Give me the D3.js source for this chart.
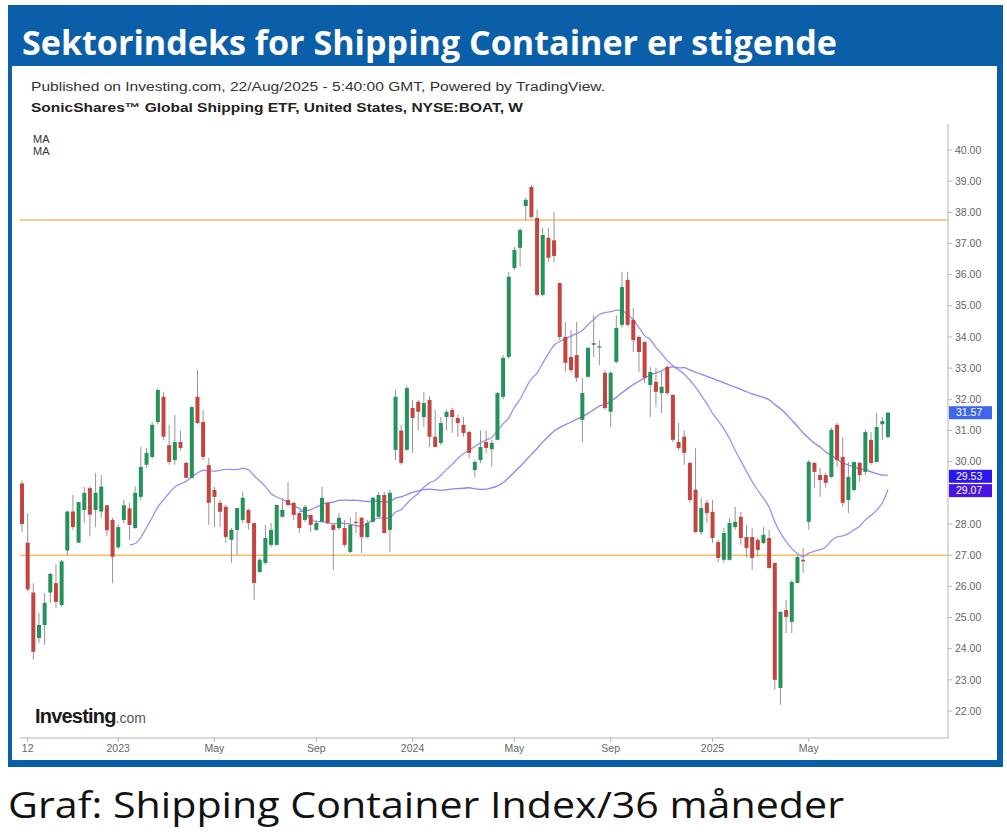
<!DOCTYPE html>
<html><head><meta charset="utf-8">
<script src="https://cdn.jsdelivr.net/npm/d3@7"></script>
<style>body{margin:0;background:#fff;} svg{display:block;}</style>
</head><body>
<svg id="chart" width="1007" height="836"></svg>
<script>
// ---------- data ----------
const titleText = "Sektorindeks for Shipping Container er stigende";
const captionText = "Graf: Shipping Container Index/36 måneder";
const publishedText = "Published on Investing.com, 22/Aug/2025 - 5:40:00 GMT, Powered by TradingView.";
const symbolText = "SonicShares\u2122 Global Shipping ETF, United States, NYSE:BOAT, W";
const maLegend = ["MA", "MA"];
const firstWeek = "2022-09-05";   // weekly candles, one per week from here
const open = [29.3,27.4,25.8,24.34,24.76,25.8,26.1,25.4,27.15,28.4,27.4,28.45,29.15,28.45,28.4,28.6,28.13,27.25,28.13,28.5,
27.87,28.87,29.9,30.15,31.27,32.08,30.53,30.05,30.63,29.96,29.48,32.08,31.27,29.89,29.09,28.68,28.55,27.49,27.81,28.13,
28.45,28.03,26.46,26.75,27.33,27.33,28.23,28.77,28.68,28.35,28.13,28.29,27.81,28.07,28.68,27.97,27.87,27.87,27.1,28.07,
28.2,27.58,28.07,28.23,28.93,27.81,30.38,31.0,30.38,31.72,31.92,31.43,31.98,30.8,30.6,31.43,31.66,31.4,31.18,30.95,
29.73,30.05,30.63,30.4,30.7,32.08,33.36,36.21,36.86,38.2,38.81,37.82,35.35,37.18,37.1,35.73,34.0,33.36,33.42,31.34,
32.72,33.75,33.67,32.85,31.6,33.2,34.39,35.83,34.55,34.0,33.84,32.46,32.56,32.2,33.04,32.14,30.63,30.8,29.96,29.1,
27.74,28.68,28.39,27.42,26.85,26.85,27.9,28.23,27.58,27.58,27.49,27.39,27.55,26.75,22.74,25.24,24.86,26.11,26.85,28.07,
29.96,29.57,29.57,29.51,31.18,30.15,28.77,29.09,29.96,29.67,30.7,29.99,31.2,30.79];
const high = [29.4,28.35,26.1,25.15,25.79,26.43,26.7,26.85,28.42,28.93,28.7,29.19,29.2,29.64,29.57,28.6,28.2,28.0,28.77,28.68,
29.2,30.47,30.44,31.27,32.36,32.24,31.18,31.5,31.0,30.0,31.8,32.94,31.66,30.12,29.19,28.77,28.61,27.87,28.51,29.03,
28.5,28.05,26.91,27.97,28.03,28.61,28.84,29.35,28.7,28.39,28.61,28.3,28.13,29.19,28.71,28.0,28.35,28.13,28.23,28.39,
28.22,28.13,28.87,29.03,29.03,29.1,32.3,31.18,32.43,31.98,31.98,32.24,32.1,31.66,31.43,31.66,31.72,31.5,31.43,31.0,
30.05,31.0,31.0,30.7,32.24,33.42,36.09,36.89,37.5,38.46,38.88,38.08,37.5,37.5,38.0,35.75,34.48,34.23,34.48,32.69,
33.68,34.7,33.9,32.94,32.9,34.7,36.09,36.09,34.93,34.05,33.86,33.04,33.0,32.94,33.1,32.16,31.24,31.0,29.98,30.44,
28.84,28.77,28.77,27.49,27.87,28.2,28.55,28.39,27.97,27.87,27.55,27.9,27.81,26.77,25.2,25.56,26.2,27.0,27.23,30.05,
29.99,29.8,29.64,31.08,31.24,30.79,29.99,29.99,29.99,31.02,30.95,31.56,31.43,31.6];
const low = [27.75,25.85,23.65,24.18,24.12,25.47,25.3,25.34,27.0,27.8,27.4,28.03,27.6,27.9,28.2,27.6,26.1,27.2,28.03,27.49,
27.85,28.77,29.8,30.1,31.2,30.7,29.9,29.9,30.37,29.45,29.45,31.2,30.05,27.97,27.9,27.9,27.39,26.75,27.0,28.03,
27.81,25.56,26.43,26.7,27.26,27.3,28.2,28.55,28.13,27.71,28.07,27.74,27.78,28.05,28.0,26.53,27.81,27.26,27.07,27.71,
27.07,27.55,28.03,28.2,27.71,27.1,30.05,29.9,30.36,30.28,31.0,31.11,30.47,30.47,30.53,31.0,30.92,30.8,30.8,30.12,
29.5,29.96,30.28,29.83,30.68,32.0,33.3,36.15,36.25,37.75,37.8,35.3,35.3,36.4,36.4,33.9,32.88,32.85,32.56,30.63,
32.69,33.36,33.1,31.66,31.11,33.15,34.3,34.35,33.52,32.88,32.53,31.43,31.75,31.56,32.14,30.63,30.37,29.9,28.68,27.72,
27.65,28.03,27.39,26.78,26.75,26.83,27.81,27.33,26.94,26.53,26.94,27.35,26.57,22.68,22.2,24.5,24.5,26.09,26.43,27.81,
29.16,28.87,29.16,29.48,29.83,28.55,28.35,29.03,29.35,29.57,29.9,29.97,30.7,30.76];
const close = [28.0,25.9,23.9,24.76,25.47,26.4,25.5,26.8,28.4,27.9,28.7,29.0,28.3,29.0,29.2,27.8,26.95,27.9,28.6,27.97,
29.0,29.83,30.28,31.18,32.3,30.8,29.99,30.63,30.44,29.48,31.75,31.24,30.15,28.68,28.87,28.39,27.58,27.81,28.51,28.84,
28.03,26.11,26.85,27.55,27.81,28.61,28.45,28.61,28.29,27.87,28.55,27.97,28.03,28.84,28.03,27.81,28.2,27.33,27.97,28.05,
27.58,28.03,28.84,28.93,27.71,29.0,32.08,29.96,32.36,31.4,31.6,31.88,30.8,30.47,31.24,31.6,31.43,31.24,30.92,30.28,
29.99,30.47,30.44,30.6,32.2,33.33,35.93,36.79,37.43,38.4,37.85,35.35,37.27,36.54,36.6,34.0,33.17,32.94,32.69,32.2,
33.65,33.8,33.7,31.72,32.85,34.29,35.6,34.39,33.9,33.52,32.69,32.88,32.24,32.4,32.2,30.7,30.44,30.28,28.77,27.74,
28.51,28.35,27.55,26.91,27.71,28.03,28.07,27.55,27.23,26.91,27.17,27.65,26.59,23.0,25.18,25.02,26.14,26.94,26.8,29.99,
29.67,29.41,29.32,31.02,30.05,28.68,29.51,29.99,29.57,30.95,29.96,31.11,31.3,31.57];
const maPeriods = [20, 50];
const lastValues = [31.57, 29.53, 29.07];   // price / MA50 / MA20 labels on the axis
const yTicks = [22,23,24,25,26,27,28,29,30,31,32,33,34,35,36,37,38,39,40];
const xTickDates = ["2022-09-12","2023-01-02","2023-05-01","2023-09-04","2024-01-01","2024-05-06","2024-09-02","2025-01-06","2025-05-05"];
const xTickLabels = ["12","2023","May","Sep","2024","May","Sep","2025","May"];
const hLevels = [37.75, 27.0];

// ---------- build ----------
const parse = d3.utcParse("%Y-%m-%d");
const t0 = parse(firstWeek);
const candles = close.map((c, i) => ({
  date: d3.utcDay.offset(t0, 7 * i), o: open[i], h: high[i], l: low[i], c: c
}));

const svg = d3.select("#chart");
const blue = "#0b5ea8";

// frame
svg.append("rect").attr("x", 8).attr("y", 5).attr("width", 995).attr("height", 762).attr("fill", blue);
svg.append("rect").attr("x", 12).attr("y", 66).attr("width", 985).attr("height", 694).attr("fill", "#fff");
svg.append("text").attr("x", 22).attr("y", 55).text(titleText)
  .attr("fill", "#fff").attr("font-family", "'Open Sans', sans-serif").attr("font-weight", 700)
  .attr("font-size", 34).attr("textLength", 815).attr("lengthAdjust", "spacingAndGlyphs");

svg.append("text").attr("x", 8).attr("y", 818).text(captionText)
  .attr("fill", "#111").attr("font-family", "'Open Sans', sans-serif")
  .attr("font-size", 37).attr("textLength", 836).attr("lengthAdjust", "spacingAndGlyphs");

svg.append("text").attr("x", 31).attr("y", 91).text(publishedText)
  .attr("fill", "#333").attr("font-family", "'Liberation Sans', Arial, sans-serif").attr("font-size", 12.5)
  .attr("textLength", 574).attr("lengthAdjust", "spacingAndGlyphs");
svg.append("text").attr("x", 31).attr("y", 112).text(symbolText)
  .attr("fill", "#222").attr("font-weight", 700).attr("font-family", "'Liberation Sans', Arial, sans-serif").attr("font-size", 12.5)
  .attr("textLength", 492).attr("lengthAdjust", "spacingAndGlyphs");
maLegend.forEach((m, i) => svg.append("text").attr("x", 33).attr("y", 143 + 12 * i).text(m)
  .attr("fill", "#333").attr("font-family", "'Liberation Sans', Arial, sans-serif").attr("font-size", 11));

// scales
const x = d3.scaleUtc().domain([candles[0].date, candles[candles.length - 1].date]).range([22, 888]);
const y = d3.scaleLinear().domain([21.07, 40.8]).range([740, 125]);

const plotL = 20, plotR = 948, plotT = 124, plotB = 738;

// horizontal levels
svg.append("g").selectAll("line").data(hLevels).join("line")
  .attr("x1", plotL).attr("x2", plotR).attr("y1", d => y(d)).attr("y2", d => y(d))
  .attr("stroke", "#f4bd6a").attr("stroke-width", 1.5);

// moving averages
const maColors = ["#9d92f0", "#8d84ee"];
maPeriods.forEach((p, k) => {
  const pts = candles.map((d, i) => i >= p - 1 ? { date: d.date, v: d3.mean(close.slice(i - p + 1, i + 1)) } : null).filter(Boolean);
  svg.append("path").datum(pts)
    .attr("d", d3.line().x(d => x(d.date)).y(d => y(d.v)).curve(d3.curveMonotoneX))
    .attr("fill", "none").attr("stroke", maColors[k]).attr("stroke-width", 1.3);
});

// candles
const up = "#23925b", down = "#c4453f";
const g = svg.append("g");
g.selectAll("line").data(candles).join("line")
  .attr("x1", d => x(d.date)).attr("x2", d => x(d.date))
  .attr("y1", d => y(d.h)).attr("y2", d => y(d.l))
  .attr("stroke", "#959595").attr("stroke-width", 1);
g.selectAll("rect").data(candles).join("rect")
  .attr("x", d => x(d.date) - 2).attr("width", 4)
  .attr("y", d => y(Math.max(d.o, d.c)))
  .attr("height", d => Math.max(1.2, Math.abs(y(d.o) - y(d.c))))
  .attr("fill", d => d.c >= d.o ? up : down);

// axes lines
svg.append("line").attr("x1", plotR).attr("x2", plotR).attr("y1", plotT).attr("y2", plotB).attr("stroke", "#b5b5b5");
svg.append("line").attr("x1", plotL).attr("x2", plotR).attr("y1", plotB).attr("y2", plotB).attr("stroke", "#b5b5b5");

// y axis (tick labels hidden where a value label covers them, as in the original)
const visibleTicks = yTicks.filter(t => lastValues.every(v => Math.abs(y(t) - y(v)) > 10));
const yAxis = svg.append("g");
yAxis.selectAll("line").data(yTicks).join("line")
  .attr("x1", plotR).attr("x2", plotR + 4).attr("y1", d => y(d)).attr("y2", d => y(d)).attr("stroke", "#b5b5b5");
yAxis.selectAll("text").data(visibleTicks).join("text")
  .attr("x", plotR + 7).attr("y", d => y(d)).attr("dy", "0.35em").text(d => d3.format(".2f")(d))
  .attr("fill", "#666").attr("font-family", "'Liberation Sans', Arial, sans-serif").attr("font-size", 10.5);

// x axis
const xAxis = svg.append("g");
const xt = xTickDates.map((d, i) => ({ date: parse(d), label: xTickLabels[i] }));
xAxis.selectAll("line").data(xt).join("line")
  .attr("x1", d => x(d.date)).attr("x2", d => x(d.date)).attr("y1", plotB).attr("y2", plotB + 4).attr("stroke", "#b5b5b5");
xAxis.selectAll("text").data(xt).join("text")
  .attr("x", d => x(d.date)).attr("y", 752).attr("text-anchor", "middle").text(d => d.label)
  .attr("fill", "#666").attr("font-family", "'Liberation Sans', Arial, sans-serif").attr("font-size", 10.5);

// last value labels
const labelColors = ["#3f66ee", "#2d17f0", "#4a14e0"];
const lab = svg.append("g");
lastValues.forEach((v, i) => {
  const cy = y(v);
  lab.append("rect").attr("x", plotR + 1).attr("y", cy - 6.5).attr("width", 43).attr("height", 13).attr("fill", labelColors[i]);
  lab.append("text").attr("x", plotR + 8).attr("y", cy).attr("dy", "0.35em").text(d3.format(".2f")(v))
    .attr("fill", "#fff").attr("font-family", "'Liberation Sans', Arial, sans-serif").attr("font-size", 10.5);
});

// logo
const logo = svg.append("text").attr("x", 35).attr("y", 723).attr("font-family", "'Liberation Sans', Arial, sans-serif");
logo.append("tspan").text("Investing").attr("font-weight", 700).attr("font-size", 20).attr("fill", "#1a1a1a").attr("letter-spacing", -0.8);
logo.append("tspan").text(".com").attr("font-size", 14).attr("fill", "#555");
</script>
</body></html>
